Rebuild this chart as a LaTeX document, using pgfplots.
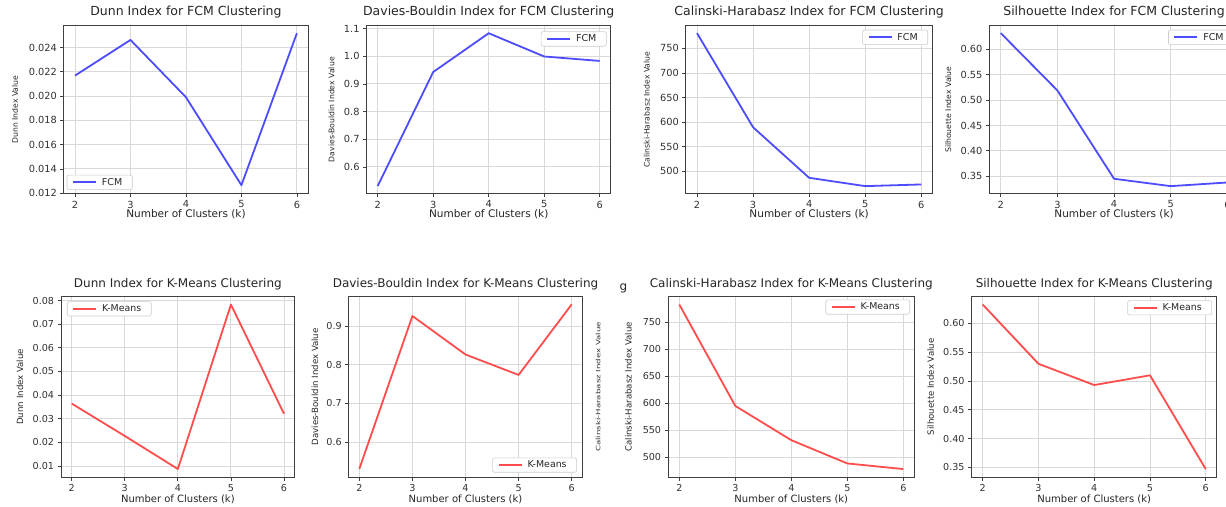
\documentclass[border=0pt]{standalone}
\usepackage{pgfplots}
\pgfplotsset{compat=1.18}
\usepackage{fontspec}
\setmainfont{DejaVu Sans}
\definecolor{fcm}{RGB}{77,77,255}
\definecolor{km}{RGB}{255,77,77}
\pgfplotsset{
  base/.style={
    scale only axis, anchor=south west,
    xmin=1.8, xmax=6.2, xtick={2,3,4,5,6},
    scaled y ticks=false, scaled x ticks=false,
    grid=major, grid style={draw=black!15, line width=0.9pt},
    axis line style={draw=black!75, line width=0.9pt},
    tick style={draw=black!75, line width=0.8pt},
    tick align=outside, major tick length=3.5pt,
    xtick pos=bottom, ytick pos=left,
    xlabel={Number of Clusters (k)},
    /pgf/number format/assume math mode=true,
    tick label style={text=black!80},
    title style={at={(axis description cs:0.5,1)}, anchor=base, text=black!85},
    xlabel style={at={(axis description cs:0.5,0)}, anchor=base, text=black!85},
    ylabel style={anchor=center, text=black!85},
    legend cell align=left,
    legend image code/.code={\draw[##1, line width=1.9pt] (0pt,0pt) -- (23pt,0pt);},
    legend style={draw=black!20, rounded corners=2pt, line width=0.6pt,
      inner xsep=5pt, inner ysep=1pt, fill=white, text=black!85,
      nodes={inner xsep=5pt}},
  },
  toprow/.style={base, height=168.3pt,
    title style={yshift=3.5pt, font=\fontsize{12.5}{14}\selectfont},
    xlabel style={yshift=-23.8pt, font=\fontsize{10.5}{12}\selectfont},
    ylabel style={font=\fontsize{7.7}{9}\selectfont},
    tick label style={font=\fontsize{9.8}{11}\selectfont},
    legend style={font=\fontsize{9.5}{10}\selectfont},
  },
  botrow/.style={base, height=181pt,
    title style={yshift=3.2pt, font=\fontsize{12}{14}\selectfont},
    xlabel style={yshift=-25.5pt, font=\fontsize{10}{12}\selectfont},
    ylabel style={font=\fontsize{8.6}{10}\selectfont},
    tick label style={font=\fontsize{9.6}{11}\selectfont},
    legend style={font=\fontsize{9.4}{10}\selectfont},
  },
  fcmline/.style={color=fcm, line width=1.8pt, line join=round},
  kmline/.style={color=km, line width=1.8pt, line join=round},
}
\begin{document}
\begin{tikzpicture}
\useasboundingbox (0pt,0pt) rectangle (1226pt,506pt);
\clip (0pt,0pt) rectangle (1226pt,506pt);
\fill[white] (0pt,0pt) rectangle (1226pt,506pt);

% ---------- top row: FCM ----------
\begin{axis}[toprow, at={(63.9pt,312.2pt)}, width=244.1pt,
  ymin=0.01195, ymax=0.02582,
  ytick={0.012,0.014,0.016,0.018,0.020,0.022,0.024},
  yticklabels={0.012,0.014,0.016,0.018,0.020,0.022,0.024},
  title={Dunn Index for FCM Clustering}, ylabel={Dunn Index Value},
  ylabel style={at={(axis description cs:-0.2007,0.5)}},
  legend style={at={(axis description cs:0.0115,0.0226)}, anchor=south west}]
\addplot[fcmline] coordinates {(2,0.02169) (3,0.02463) (4,0.01991) (5,0.01266) (6,0.02519)};
\addlegendentry{FCM}
\end{axis}

\begin{axis}[toprow, at={(366.6pt,312.2pt)}, width=244.2pt,
  ymin=0.503, ymax=1.111,
  ytick={0.6,0.7,0.8,0.9,1.0,1.1},
  yticklabels={0.6,0.7,0.8,0.9,1.0,1.1},
  title={Davies-Bouldin Index for FCM Clustering}, ylabel={Davies-Bouldin Index Value},
  ylabel style={at={(axis description cs:-0.1433,0.5)}},
  legend style={at={(axis description cs:0.983,0.965)}, anchor=north east}]
\addplot[fcmline] coordinates {(2,0.531) (3,0.943) (4,1.083) (5,0.999) (6,0.983)};
\addlegendentry{FCM}
\end{axis}

\begin{axis}[toprow, at={(685.8pt,312.2pt)}, width=246.7pt,
  ymin=454.2, ymax=796.6,
  ytick={500,550,600,650,700,750},
  yticklabels={500,550,600,650,700,750},
  title={Calinski-Harabasz Index for FCM Clustering}, ylabel={Calinski-Harabasz Index Value},
  ylabel style={at={(axis description cs:-0.1585,0.5)}},
  legend style={at={(axis description cs:0.982,0.975)}, anchor=north east}]
\addplot[fcmline] coordinates {(2,781) (3,589.5) (4,486.7) (5,469.8) (6,473.2)};
\addlegendentry{FCM}
\end{axis}

\begin{axis}[toprow, at={(989.4pt,312.2pt)}, width=249.3pt,
  ymin=0.3154, ymax=0.647,
  ytick={0.35,0.40,0.45,0.50,0.55,0.60},
  yticklabels={0.35,0.40,0.45,0.50,0.55,0.60},
  title={Silhouette Index for FCM Clustering}, ylabel={Silhouette Index Value},
  ylabel style={at={(axis description cs:-0.1649,0.5)}},
  legend style={at={(axis description cs:0.981,0.975)}, anchor=north east}]
\addplot[fcmline] coordinates {(2,0.632) (3,0.519) (4,0.345) (5,0.3305) (6,0.3377)};
\addlegendentry{FCM}
\end{axis}

% ---------- bottom row: K-Means ----------
\begin{axis}[botrow, at={(61.1pt,28.7pt)}, width=233.5pt,
  ymin=0.0052, ymax=0.0818,
  ytick={0.01,0.02,0.03,0.04,0.05,0.06,0.07,0.08},
  yticklabels={0.01,0.02,0.03,0.04,0.05,0.06,0.07,0.08},
  title={Dunn Index for K-Means Clustering}, ylabel={Dunn Index Value},
  ylabel style={at={(axis description cs:-0.176,0.5)}},
  legend style={at={(axis description cs:0.025,0.972)}, anchor=north west}]
\addplot[kmline] coordinates {(2,0.0364) (3,0.0227) (4,0.0087) (5,0.0783) (6,0.0321)};
\addlegendentry{K-Means}
\end{axis}

\begin{axis}[botrow, at={(348.7pt,28.7pt)}, width=233.6pt,
  ymin=0.509, ymax=0.977,
  ytick={0.6,0.7,0.8,0.9},
  yticklabels={0.6,0.7,0.8,0.9},
  title={Davies-Bouldin Index for K-Means Clustering}, ylabel={Davies-Bouldin Index Value},
  ylabel style={at={(axis description cs:-0.1443,0.5)}},
  legend style={at={(axis description cs:0.977,0.026)}, anchor=south east}]
\addplot[kmline] coordinates {(2,0.5307) (3,0.926) (4,0.8265) (5,0.7737) (6,0.956)};
\addlegendentry{K-Means}
\end{axis}

\begin{axis}[botrow, at={(668.1pt,28.7pt)}, width=246.4pt,
  ymin=463.3, ymax=797.8,
  ytick={500,550,600,650,700,750},
  yticklabels={500,550,600,650,700,750},
  title={Calinski-Harabasz Index for K-Means Clustering}, ylabel={Calinski-Harabasz Index Value},
  ylabel style={at={(axis description cs:-0.1615,0.5)}},
  legend style={at={(axis description cs:0.982,0.982)}, anchor=north east}]
\addplot[kmline] coordinates {(2,782.6) (3,595.2) (4,531.9) (5,488.9) (6,478.5)};
\addlegendentry{K-Means}
\end{axis}

\begin{axis}[botrow, at={(971.55pt,28.7pt)}, width=245.3pt,
  ymin=0.3329, ymax=0.6472,
  ytick={0.35,0.40,0.45,0.50,0.55,0.60},
  yticklabels={0.35,0.40,0.45,0.50,0.55,0.60},
  title={Silhouette Index for K-Means Clustering}, ylabel={Silhouette Index Value},
  ylabel style={at={(axis description cs:-0.1667,0.5)}},
  legend style={at={(axis description cs:0.98,0.978)}, anchor=north east}]
\addplot[kmline] coordinates {(2,0.6329) (3,0.530) (4,0.4931) (5,0.510) (6,0.3472)};
\addlegendentry{K-Means}
\end{axis}

% stray fragments of the composite
\node[anchor=base, text=black!85, font=\fontsize{12}{14}\selectfont] at (623.5pt,215pt) {g};
\node[rotate=90, yscale=0.7, text=black!80, font=\fontsize{8.6}{10}\selectfont] at (598pt,119pt) {Calinski-Harabasz Index Value};
\end{tikzpicture}
\end{document}
